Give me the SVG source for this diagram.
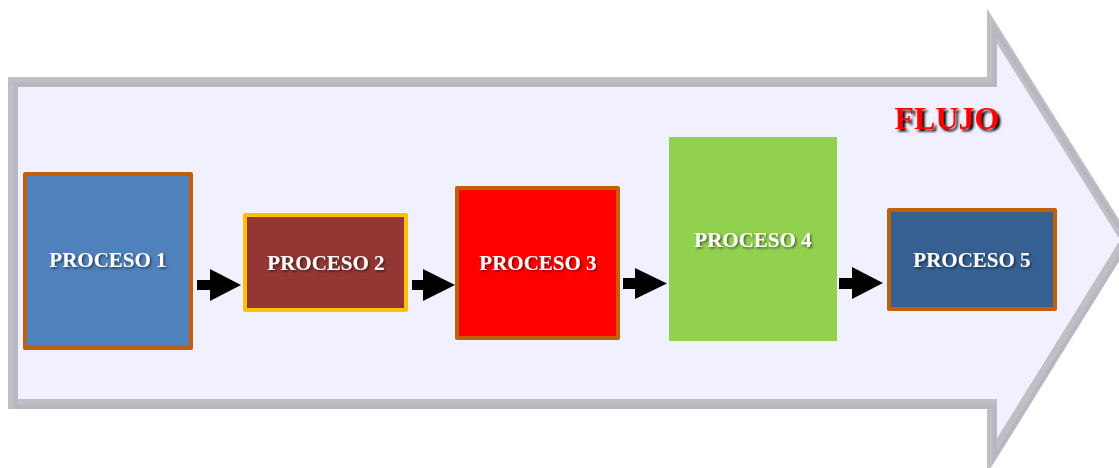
<svg xmlns="http://www.w3.org/2000/svg" width="1119" height="468" viewBox="0 0 1119 468">
<defs>
<filter id="ts" x="-10%" y="-20%" width="130%" height="150%">
<feDropShadow dx="1.5" dy="1.5" stdDeviation="1" flood-color="#000" flood-opacity="0.55"/>
</filter>
<filter id="fs" x="-10%" y="-20%" width="130%" height="150%">
<feDropShadow dx="2.5" dy="2.5" stdDeviation="0.8" flood-color="#000" flood-opacity="1"/>
</filter>
</defs>
<style>
.lbl{font-family:"Liberation Serif","Times New Roman",serif;font-weight:bold;font-size:21px;fill:#fff;text-anchor:middle;filter:url(#ts)}
.flujo{font-family:"Liberation Serif","Times New Roman",serif;font-weight:bold;font-size:32px;fill:#ff0000;text-anchor:middle;filter:url(#fs)}
.box{stroke-width:4;stroke-linejoin:round}
.conn{fill:#000}
</style>
<g id="flow-arrow">
<path d="M13,82 H992 V26 L1126,240 L992,456 V404 H13 Z" fill="#f0f0fe" stroke="#bfbfc4" stroke-width="10" stroke-linejoin="miter"/>
<path d="M13,82 H992 V26 L1126,240 L992,456 V404 H13 Z" fill="none" stroke="#b2b2bf" stroke-width="4" stroke-linejoin="miter" transform="translate(2.5,2.5)" opacity="0.6"/>
<text class="flujo" x="947" y="129">FLUJO</text>
</g>
<g id="proceso1">
<rect class="box" x="25" y="174" width="166" height="174" fill="#4f81bd" stroke="#c0600a"/>
<text class="lbl" x="108" y="267">PROCESO 1</text>
</g>
<g id="proceso2">
<rect class="box" x="245" y="215" width="161" height="95" fill="#943634" stroke="#ffc000"/>
<text class="lbl" x="326" y="270">PROCESO 2</text>
</g>
<g id="proceso3">
<rect class="box" x="457" y="188" width="161" height="150" fill="#ff0000" stroke="#c0600a"/>
<text class="lbl" x="538" y="270">PROCESO 3</text>
</g>
<g id="proceso4">
<rect x="669" y="137" width="168" height="204" fill="#92d050"/>
<text class="lbl" x="753" y="247">PROCESO 4</text>
</g>
<g id="proceso5">
<rect class="box" x="889" y="210" width="166" height="99" fill="#366092" stroke="#c0600a"/>
<text class="lbl" x="972" y="267">PROCESO 5</text>
</g>
<g id="connectors">
<path class="conn" d="M197,280 H210 V269 L241,285 L210,301 V290 H197 Z"/>
<path class="conn" d="M412,280 H423 V269 L455,285 L423,301 V290 H412 Z"/>
<path class="conn" d="M623,278 H635 V268 L667,283.5 L635,299 V289 H623 Z"/>
<path class="conn" d="M839,278 H852 V267 L883,283 L852,299 V289 H839 Z"/>
</g>
</svg>
